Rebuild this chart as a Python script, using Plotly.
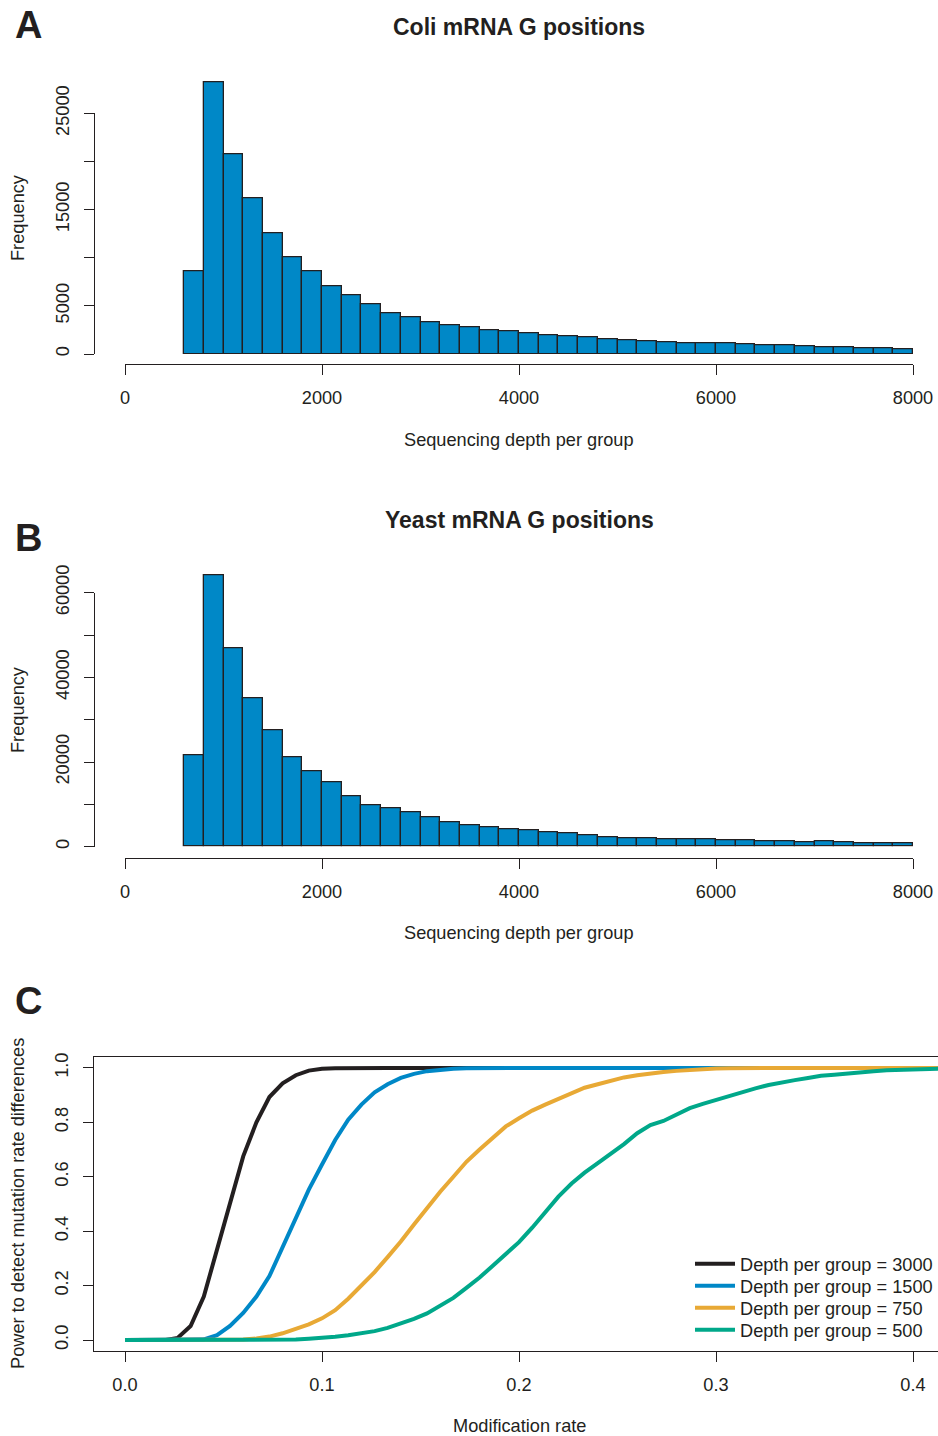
import plotly.graph_objects as go

# ---------------- data ----------------
bin_start = list(range(600, 8000, 200))  # histogram bins of width 200 from 600 to 8000
bin_width = 200

coli_counts = [8550, 28220, 20780, 16170, 12600, 10080, 8550, 7030, 6160, 5125,
               4225, 3810, 3255, 2945, 2736, 2493, 2320, 2112, 1974, 1870,
               1732, 1524, 1385, 1350, 1247, 1143, 1110, 1074, 970, 935,
               866, 796, 727, 693, 589, 554, 519]

yeast_counts = [21650, 64170, 46930, 35040, 27400, 21100, 17800, 15120, 11890, 9840,
                9055, 8030, 6930, 5750, 5100, 4567, 4173, 3780, 3386, 3071,
                2756, 2283, 1969, 1890, 1811, 1732, 1732, 1575, 1496, 1339,
                1181, 1024, 1181, 1024, 866, 787, 787]

mod_rate = [0.0, 0.0067, 0.0133, 0.02, 0.0267, 0.0333, 0.04, 0.0467, 0.0533, 0.06,
            0.0667, 0.0733, 0.08, 0.0867, 0.0933, 0.1, 0.1067, 0.1133, 0.12, 0.1267,
            0.1333, 0.14, 0.1467, 0.1533, 0.16, 0.1667, 0.1733, 0.18, 0.1867, 0.1933,
            0.2, 0.2067, 0.2133, 0.22, 0.2267, 0.2333, 0.24, 0.2467, 0.2533, 0.26,
            0.2667, 0.2733, 0.28, 0.2867, 0.2933, 0.3, 0.3067, 0.3133, 0.32, 0.3267,
            0.3333, 0.34, 0.3467, 0.3533, 0.36, 0.3667, 0.3733, 0.38, 0.3867, 0.3933,
            0.4, 0.4067, 0.4133, 0.42]

power_3000 = [0, 0, 0, 0, 0.008, 0.052, 0.16, 0.33, 0.51, 0.675,
              0.80, 0.893, 0.943, 0.973, 0.99, 0.997, 0.999, 1, 1, 1,
              1, 1, 1, 1, 1, 1, 1, 1, 1, 1,
              1, 1, 1, 1, 1, 1, 1, 1, 1, 1,
              1, 1, 1, 1, 1, 1, 1, 1, 1, 1,
              1, 1, 1, 1, 1, 1, 1, 1, 1, 1,
              1, 1, 1, 1]

power_1500 = [0, 0, 0, 0, 0, 0, 0.003, 0.018, 0.052, 0.10,
              0.16, 0.235, 0.34, 0.45, 0.553, 0.645, 0.735, 0.81, 0.865, 0.91,
              0.94, 0.963, 0.978, 0.988, 0.994, 0.997, 0.999, 1, 1, 1,
              1, 1, 1, 1, 1, 1, 1, 1, 1, 1,
              1, 1, 1, 1, 1, 1, 1, 1, 1, 1,
              1, 1, 1, 1, 1, 1, 1, 1, 1, 1,
              1, 1, 1, 1]

power_750 = [0, 0, 0, 0, 0, 0, 0, 0, 0, 0.002,
             0.006, 0.013, 0.025, 0.04, 0.058, 0.08, 0.11, 0.152, 0.2, 0.25,
             0.305, 0.362, 0.425, 0.487, 0.545, 0.60, 0.655, 0.70, 0.745, 0.785,
             0.815, 0.843, 0.865, 0.887, 0.908, 0.927, 0.94, 0.953, 0.965, 0.973,
             0.98, 0.985, 0.989, 0.993, 0.996, 0.998, 0.999, 1, 1, 1,
             1, 1, 1, 1, 1, 1, 1, 1, 1, 1,
             1, 1, 1, 1]

power_500 = [0, 0, 0, 0, 0, 0, 0, 0, 0, 0,
             0, 0, 0, 0.002, 0.005, 0.008, 0.012, 0.018, 0.024, 0.033,
             0.045, 0.06, 0.078, 0.098, 0.125, 0.155, 0.192, 0.23, 0.273, 0.315,
             0.36, 0.413, 0.47, 0.527, 0.575, 0.615, 0.65, 0.685, 0.72, 0.76,
             0.79, 0.805, 0.83, 0.852, 0.868, 0.883, 0.898, 0.913, 0.925, 0.937,
             0.947, 0.955, 0.963, 0.971, 0.975, 0.98, 0.985, 0.988, 0.991, 0.993,
             0.995, 0.996, 0.997, 0.998]

series_labels = ["Depth per group = 3000", "Depth per group = 1500",
                 "Depth per group = 750", "Depth per group = 500"]

hist_x_ticks = [0, 2000, 4000, 6000, 8000]
coli_y_ticks = [0, 5000, 10000, 15000, 20000, 25000]
coli_y_text = ["0", "5000", "", "15000", "", "25000"]
yeast_y_ticks = [0, 10000, 20000, 30000, 40000, 50000, 60000]
yeast_y_text = ["0", "", "20000", "", "40000", "", "60000"]
power_x_ticks = [0.0, 0.1, 0.2, 0.3, 0.4]
power_y_ticks = [0.0, 0.2, 0.4, 0.6, 0.8, 1.0]

# ---------------- style ----------------
W, H = 938, 1436
INK = "#231f20"
BAR = "#0088c7"
COLORS = ["#231f20", "#0088c7", "#e8a935", "#00a88a"]
FONT = "Liberation Sans, Arial, Helvetica, sans-serif"
FS = 18.2


def fx(px):
    return px / W


def fy(py):
    return 1 - py / H


bin_mid = [b + bin_width / 2 for b in bin_start]

fig = go.Figure()

bar_style = dict(marker=dict(color=BAR, line=dict(color=INK, width=1.3)),
                 width=[bin_width] * len(bin_start), showlegend=False, hoverinfo="x+y")

fig.add_trace(go.Bar(x=bin_mid, y=coli_counts, xaxis="x", yaxis="y", **bar_style))
fig.add_trace(go.Bar(x=bin_mid, y=yeast_counts, xaxis="x2", yaxis="y2", **bar_style))
# invisible anchors for the R-style frequency axes
fig.add_trace(go.Scatter(x=[None], y=[None], xaxis="x", yaxis="y3", showlegend=False, hoverinfo="skip"))
fig.add_trace(go.Scatter(x=[None], y=[None], xaxis="x2", yaxis="y4", showlegend=False, hoverinfo="skip"))

legend_names = ["legend", "legend2", "legend3", "legend4"]
for vals, lab, col, lg in zip([power_3000, power_1500, power_750, power_500], series_labels, COLORS, legend_names):
    fig.add_trace(go.Scatter(x=mod_rate, y=vals, mode="lines", name=lab, legend=lg,
                             line=dict(color=col, width=4), xaxis="x3", yaxis="y5"))

tick_font = dict(family=FONT, size=FS, color=INK)
common_axis = dict(showgrid=False, zeroline=False, showline=True, linecolor=INK, linewidth=1.3,
                   ticks="outside", ticklen=10, tickwidth=1.3, tickcolor=INK, tickfont=tick_font,
                   automargin=False)

fig.update_layout(
    # panel A
    xaxis=dict(domain=[fx(125), fx(913)], range=[0, 8000], anchor="free", position=fy(364.3),
               tickvals=hist_x_ticks, ticktext=[str(v) for v in hist_x_ticks],
               ticklabelstandoff=7, **common_axis),
    yaxis=dict(domain=[fy(354), fy(65.2)], range=[0, 30000], visible=False, anchor="x"),
    yaxis3=dict(domain=[fy(354), fy(113.33)], range=[0, 25000], anchor="free", position=fx(94),
                tickvals=coli_y_ticks, ticktext=coli_y_text, tickangle=-90,
                ticklabelstandoff=8, **common_axis),
    # panel B
    xaxis2=dict(domain=[fx(125), fx(913)], range=[0, 8000], anchor="free", position=fy(857.7),
                tickvals=hist_x_ticks, ticktext=[str(v) for v in hist_x_ticks],
                ticklabelstandoff=7, **common_axis),
    yaxis2=dict(domain=[fy(846.67), fy(550.3)], range=[0, 70000], visible=False, anchor="x2"),
    yaxis4=dict(domain=[fy(846.67), fy(592.67)], range=[0, 60000], anchor="free", position=fx(94),
                tickvals=yeast_y_ticks, ticktext=yeast_y_text, tickangle=-90,
                ticklabelstandoff=8, **common_axis),
    # panel C
    xaxis3=dict(domain=[fx(94), 1], range=[-0.01574, 0.41269], anchor="y5", mirror=True,
                tickvals=power_x_ticks, ticktext=["%.1f" % v for v in power_x_ticks],
                ticklabelstandoff=7, **common_axis),
    yaxis5=dict(domain=[fy(1351), fy(1057)], range=[-0.04, 1.04], anchor="x3",
                tickvals=power_y_ticks, ticktext=["%.1f" % v for v in power_y_ticks],
                tickangle=-90, ticklabelstandoff=8, **common_axis),
)

legend_rows = [1264, 1286, 1308, 1330]
legend_style = dict(xanchor="left", yanchor="middle", bgcolor="rgba(0,0,0,0)", borderwidth=0,
                    font=dict(family=FONT, size=FS, color=INK), itemwidth=40)
legend_layout = {lg: dict(x=fx(690), y=fy(row), **legend_style)
                 for lg, row in zip(legend_names, legend_rows)}

fig.update_layout(
    width=W, height=H, margin=dict(l=0, r=0, t=0, b=0, pad=0, autoexpand=False),
    paper_bgcolor="white", plot_bgcolor="rgba(0,0,0,0)",
    bargap=0, barmode="overlay",
    font=dict(family=FONT, size=FS, color=INK),
    **legend_layout,
)

ann = []
def text(x, y, s, size=FS, bold=False, angle=0):
    ann.append(dict(x=fx(x), y=fy(y), xref="paper", yref="paper", text=("<b>%s</b>" % s) if bold else s,
                    showarrow=False, xanchor="center", yanchor="middle", textangle=angle,
                    font=dict(family=FONT, size=size, color=INK)))

text(28, 25, "A", size=38, bold=True)
text(28, 538, "B", size=38, bold=True)
text(28, 1001, "C", size=38, bold=True)
text(519, 27, "Coli mRNA G positions", size=23, bold=True)
text(519, 520, "Yeast mRNA G positions", size=23, bold=True)
text(519, 440, "Sequencing depth per group")
text(519, 933, "Sequencing depth per group")
text(519, 1426, "Modification rate")
text(18, 218, "Frequency", angle=-90)
text(18, 710, "Frequency", angle=-90)
text(18, 1204, "Power to detect mutation rate differences", angle=-90)
fig.update_layout(annotations=ann)

fig.write_html("out.html", config={"displayModeBar": False},
               post_script="document.body.style.margin='0px';document.body.style.overflow='hidden';")
